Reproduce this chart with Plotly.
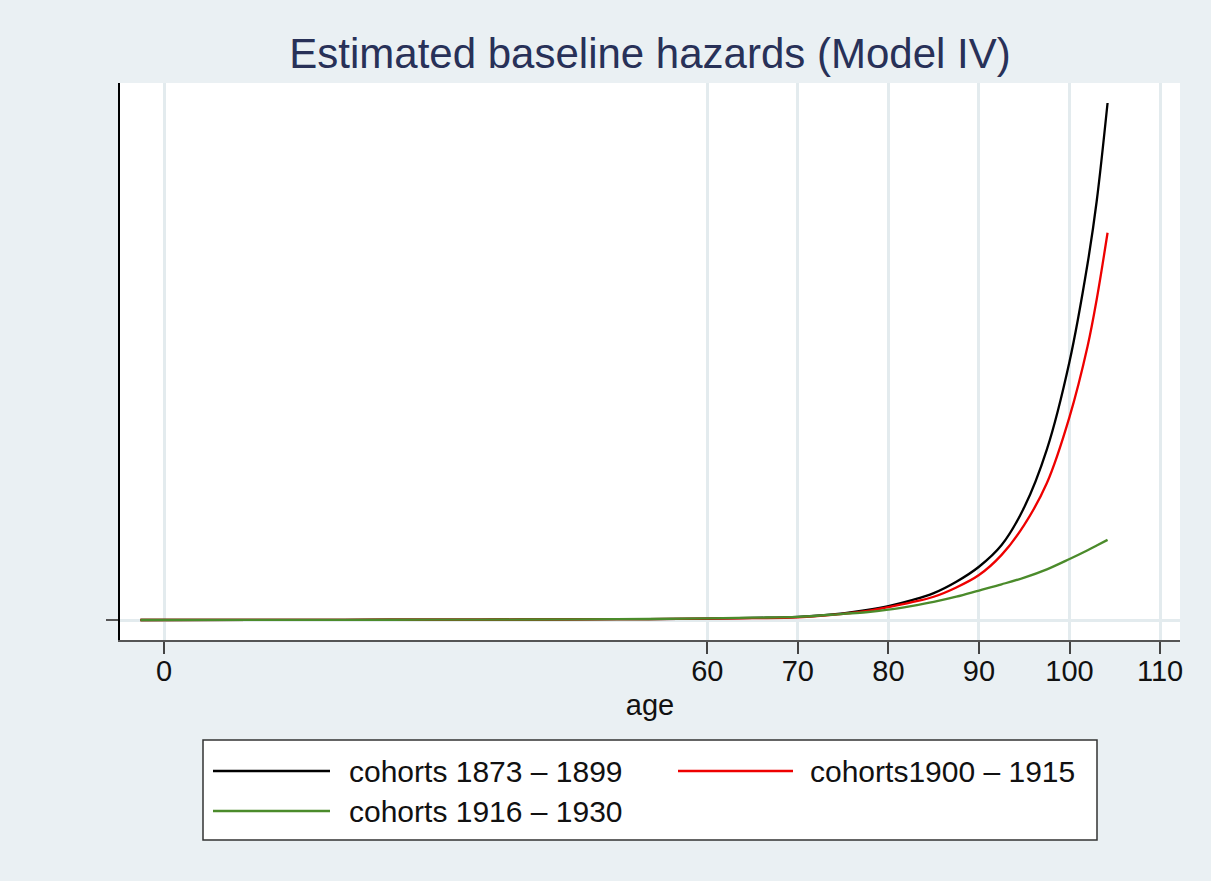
import plotly.graph_objects as go

# ---- data (y in arbitrary hazard units) ----
ages = [-2.6, 10, 20, 30, 40, 50, 60, 65, 70, 75, 77.5, 80, 82.5, 85, 87.5, 90, 92.5, 95,
        97.5, 100, 102, 103, 104.2]
haz_1873_1899 = [0.0, 0.0002, 0.0004, 0.0006, 0.001, 0.0015, 0.0025, 0.004, 0.006, 0.013, 0.019,
                 0.027, 0.038, 0.052, 0.074, 0.103, 0.145, 0.218,
                 0.33, 0.50, 0.69, 0.81, 1.000]
haz_1900_1915 = [0.0, 0.0002, 0.0004, 0.0006, 0.001, 0.0015, 0.0025, 0.0035, 0.005, 0.012, 0.017,
                 0.025, 0.034, 0.045, 0.063, 0.087, 0.126, 0.184,
                 0.265, 0.393, 0.530, 0.62, 0.749]
haz_1916_1930 = [0.0, 0.0002, 0.0004, 0.0006, 0.001, 0.0015, 0.003, 0.0045, 0.006, 0.012, 0.015,
                 0.020, 0.027, 0.035, 0.045, 0.057, 0.069, 0.082,
                 0.098, 0.118, 0.135, 0.144, 0.155]

series_names = ["cohorts 1873 \u2013 1899", "cohorts1900 \u2013 1915", "cohorts 1916 \u2013 1930"]
series_colors = ["#000000", "#EE0000", "#4B8B2B"]
x_tickvals = [0, 60, 70, 80, 90, 100, 110]

BG = "#EAF0F3"
GRID = "#E3EBEE"
FONT = "Liberation Sans, Arial, Helvetica, sans-serif"

W, H = 1211, 881
L, R, T, B = 120, 1180, 83, 640  # plot area in pixels


def px(xp):
    return (xp - L) / (R - L)


def py(yp):
    return (B - yp) / (B - T)


fig = go.Figure()
for name, ys, col in zip(series_names, [haz_1873_1899, haz_1900_1915, haz_1916_1930], series_colors):
    fig.add_trace(go.Scatter(x=ages, y=ys, mode="lines", name=name,
                             line=dict(color=col, width=2.3, shape="spline", smoothing=1.0),
                             showlegend=False))

# ---- manual Stata-style legend ----
shapes = [dict(type="rect", xref="paper", yref="paper",
               x0=px(203), x1=px(1097), y0=py(740), y1=py(840),
               line=dict(color="#333333", width=1.5), fillcolor="white", layer="above")]
annotations = []
legend_pos = [(213, 330, 347, 771), (678, 793, 808, 771), (213, 330, 347, 811)]
for (lx0, lx1, tx, ly), name, col in zip(legend_pos, series_names, series_colors):
    shapes.append(dict(type="line", xref="paper", yref="paper",
                       x0=px(lx0), x1=px(lx1), y0=py(ly), y1=py(ly),
                       line=dict(color=col, width=2.3), layer="above"))
    annotations.append(dict(text=name, xref="paper", yref="paper", x=px(tx), y=py(ly),
                            xanchor="left", yanchor="middle", showarrow=False,
                            font=dict(size=30, color="#111111", family=FONT)))

fig.update_layout(
    width=W, height=H,
    margin=dict(l=L, r=W - R, t=T, b=H - B, pad=0),
    paper_bgcolor=BG, plot_bgcolor="white",
    font=dict(family=FONT, color="#111111"),
    title=dict(text="Estimated baseline hazards (Model IV)", x=px(650), xref="paper",
               xanchor="center", y=1 - 53 / H, yanchor="middle",
               font=dict(size=42, color="#283158", family=FONT)),
    shapes=shapes, annotations=annotations,
    showlegend=False,
)

fig.update_xaxes(range=[-4.86, 112.2], tickvals=x_tickvals, ticktext=[str(v) for v in x_tickvals],
                 showgrid=True, gridcolor=GRID, gridwidth=2.5,
                 showline=True, linecolor="#555555", linewidth=1.5,
                 ticks="outside", ticklen=12, tickwidth=1.5, tickcolor="#444444",
                 tickfont=dict(size=29, color="#111111", family=FONT),
                 ticklabelstandoff=-8,
                 zeroline=False,
                 title=dict(text="age", standoff=9, font=dict(size=29, color="#111111", family=FONT)))

fig.update_yaxes(range=[-20 / 517, 537 / 517], tickvals=[0], ticktext=[""],
                 showgrid=True, gridcolor=GRID, gridwidth=2.5,
                 showline=True, linecolor="#000000", linewidth=1.5,
                 ticks="outside", ticklen=12, tickwidth=1.5, tickcolor="#555555",
                 showticklabels=False, zeroline=False)

fig.write_html("out.html",
               config={"displayModeBar": False},
               post_script="document.body.style.margin='0';"
                           "document.body.style.padding='0';"
                           "document.documentElement.style.background='" + BG + "';")
